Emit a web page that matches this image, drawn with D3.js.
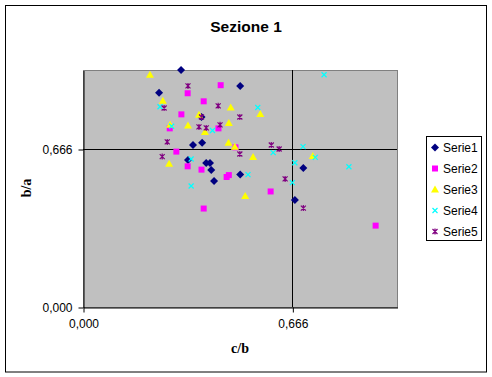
<!DOCTYPE html>
<html>
<head>
    <meta charset="utf-8">
    <title>Sezione 1</title>
    <script src="https://cdn.jsdelivr.net/npm/d3@7"></script>
    <style>
        body { margin: 0; background: #fff; }
        svg { display: block; }
    </style>
</head>
<body>
<div id="container"></div>

<script>

// Valori: [c/b, b/a]
const serieNames = ["Serie1", "Serie2", "Serie3", "Serie4", "Serie5"];

const serie1 = [
    [0.312, 0.999], [0.242, 0.903], [0.500, 0.932], [0.377, 0.801], [0.350, 0.683],
    [0.379, 0.692], [0.334, 0.620], [0.392, 0.607], [0.404, 0.607], [0.408, 0.578],
    [0.500, 0.559], [0.417, 0.531], [0.701, 0.586], [0.674, 0.451]
];
const serie2 = [
    [0.438, 0.935], [0.333, 0.901], [0.384, 0.867], [0.313, 0.812], [0.276, 0.753],
    [0.431, 0.753], [0.485, 0.673], [0.297, 0.655], [0.333, 0.593], [0.377, 0.579],
    [0.457, 0.548], [0.464, 0.556], [0.597, 0.487], [0.384, 0.415], [0.931, 0.343]
];
const serie3 = [
    [0.213, 0.979], [0.254, 0.869], [0.470, 0.841], [0.564, 0.814], [0.369, 0.810],
    [0.277, 0.768], [0.334, 0.765], [0.464, 0.776], [0.388, 0.738], [0.463, 0.692],
    [0.483, 0.675], [0.541, 0.632], [0.731, 0.637], [0.274, 0.604], [0.516, 0.468]
];
const serie4 = [
    [0.767, 0.979], [0.556, 0.841], [0.245, 0.844], [0.282, 0.762], [0.412, 0.744],
    [0.700, 0.676], [0.605, 0.651], [0.739, 0.631], [0.846, 0.591], [0.674, 0.608],
    [0.344, 0.624], [0.525, 0.558], [0.666, 0.524], [0.344, 0.510]
];
const serie5 = [
    [0.334, 0.932], [0.258, 0.839], [0.430, 0.848], [0.499, 0.801], [0.377, 0.801],
    [0.369, 0.759], [0.392, 0.755], [0.436, 0.768], [0.268, 0.696], [0.252, 0.634],
    [0.499, 0.645], [0.599, 0.683], [0.624, 0.666], [0.643, 0.540], [0.701, 0.417]
];

const tickValues = [0, 0.666];
const axisMax = 0.999;

const allSeries = [serie1, serie2, serie3, serie4, serie5];
const colors = ["#000080", "#ff00ff", "#ffff00", "#00ffff", "#800080"];

// Dimensioni
const W = 492, H = 377;
const marginLeft = 83, marginTop = 70;
const width = 314, height = 237;

const svg = d3.select("#container")
              .append("svg")
              .attr("width", W)
              .attr("height", H);

// Bordo esterno del grafico
svg.append("rect")
   .attr("x", 5.5).attr("y", 5.5)
   .attr("width", 481).attr("height", 366.5)
   .attr("fill", "#fff")
   .attr("stroke", "#000");

// Titolo
svg.append("text")
   .attr("x", 246).attr("y", 32)
   .attr("text-anchor", "middle")
   .style("font", "bold 15.5px 'Liberation Sans', Arial, sans-serif")
   .text("Sezione 1");

const g = svg.append("g")
             .attr("transform", `translate(${marginLeft},${marginTop})`);

// Scale
const x = d3.scaleLinear().domain([0, axisMax]).range([0, width]);
const y = d3.scaleLinear().domain([0, axisMax]).range([height, 0]);

// Area del grafico
g.append("rect")
 .attr("x", 0.5).attr("y", 0.5)
 .attr("width", width).attr("height", height)
 .attr("fill", "#c0c0c0")
 .attr("stroke", "#808080");

// Griglia principale (nera)
g.selectAll(".vgrid")
 .data(tickValues.filter(d => d > 0))
 .enter().append("line")
 .attr("x1", d => Math.round(x(d)) + 0.5).attr("x2", d => Math.round(x(d)) + 0.5)
 .attr("y1", 0).attr("y2", height)
 .attr("stroke", "#000");

g.selectAll(".hgrid")
 .data(tickValues.filter(d => d > 0))
 .enter().append("line")
 .attr("y1", d => Math.round(y(d)) + 0.5).attr("y2", d => Math.round(y(d)) + 0.5)
 .attr("x1", 0).attr("x2", width)
 .attr("stroke", "#000");

// Assi
const fmt = d3.formatLocale({ decimal: ",", thousands: ".", grouping: [3], currency: ["", ""] }).format(".3f");

const xAxis = g.append("g")
               .attr("transform", `translate(0.5,${height + 0.5})`)
               .call(d3.axisBottom(x).tickValues(tickValues).tickFormat(fmt)
                       .tickSize(5).tickSizeOuter(0).tickPadding(7));

const yAxis = g.append("g")
               .attr("transform", "translate(0.5,0.5)")
               .call(d3.axisLeft(y).tickValues(tickValues).tickFormat(fmt)
                       .tickSize(5).tickSizeOuter(0).tickPadding(6));

[xAxis, yAxis].forEach(a => {
    a.select(".domain").attr("stroke", "#000");
    a.selectAll(".tick line").attr("stroke", "#000");
    a.selectAll("text")
     .attr("fill", "#000")
     .style("font", "12px 'Liberation Sans', Arial, sans-serif");
});

// Titoli degli assi
svg.append("text")
   .attr("x", 240).attr("y", 353)
   .attr("text-anchor", "middle")
   .style("font", "bold 14px 'Liberation Serif', 'Times New Roman', serif")
   .text("c/b");

svg.append("text")
   .attr("transform", "translate(31,188) rotate(-90)")
   .attr("text-anchor", "middle")
   .style("font", "bold 14px 'Liberation Serif', 'Times New Roman', serif")
   .text("b/a");

// Marcatori stile Excel
function markerPath(i) {
    switch (i) {
        case 0: return "M0,-4L4,0L0,4L-4,0Z";               // rombo
        case 1: return "M-3,-3h6v6h-6Z";                    // quadrato
        case 2: return "M0,-4L4,3L-4,3Z";                   // triangolo
        case 3: return "M-2.5,-2.5L2.5,2.5M-2.5,2.5L2.5,-2.5"; // x
        default: return "M-2.5,-2.5L2.5,2.5M-2.5,2.5L2.5,-2.5M0,-3L0,3"; // asterisco
    }
}
function drawMarker(sel, i) {
    const filled = i < 3;
    sel.attr("d", markerPath(i))
       .attr("fill", filled ? colors[i] : "none")
       .attr("stroke", filled ? "none" : colors[i])
       .attr("stroke-width", 1.2);
}

allSeries.forEach((data, i) => {
    g.append("g")
     .attr("class", "serie")
     .selectAll("path")
     .data(data)
     .enter().append("path")
     .attr("transform", d => `translate(${x(d[0])},${y(d[1])})`)
     .call(drawMarker, i);
});

// Legenda
const legend = svg.append("g");
legend.append("rect")
      .attr("x", 426.5).attr("y", 136.5)
      .attr("width", 55).attr("height", 104)
      .attr("fill", "#fff")
      .attr("stroke", "#000");

const items = legend.selectAll(".item")
                    .data(serieNames)
                    .enter().append("g")
                    .attr("transform", (d, i) => `translate(435,${147.5 + i * 21})`);

items.append("path").each(function(d, i) { d3.select(this).call(drawMarker, i); });

items.append("text")
     .attr("x", 8).attr("y", 4.5)
     .style("font", "12px 'Liberation Sans', Arial, sans-serif")
     .text(d => d);

</script>
</body>
</html>
